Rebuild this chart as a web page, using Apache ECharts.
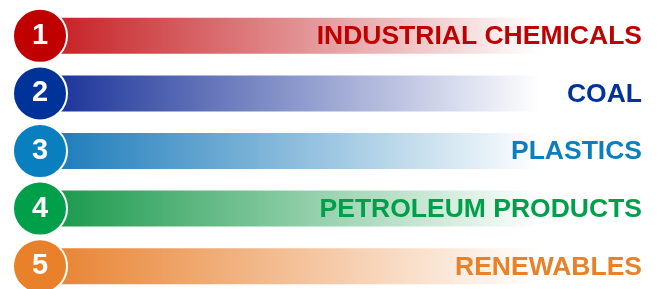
<!DOCTYPE html>
<html>
<head>
<meta charset="utf-8">
<script src="https://cdn.jsdelivr.net/npm/echarts@6/dist/echarts.min.js"></script>
<style>
  html, body { margin: 0; padding: 0; background: #fff; }
  #chart { width: 657px; height: 289px; }
</style>
</head>
<body>
<div id="chart"></div>
<script>
// 数据
const labels = ['INDUSTRIAL CHEMICALS', 'COAL', 'PLASTICS', 'PETROLEUM PRODUCTS', 'RENEWABLES'];
const numbers = ['1', '2', '3', '4', '5'];
const barValues = [100, 100, 100, 100, 100];
const colors = ['#C00000', '#003399', '#0A7FC0', '#00A04A', '#E8812A'];
const barStart = ['rgba(196,26,30,1)', 'rgba(20,45,150,1)', 'rgba(22,120,185,1)', 'rgba(18,150,70,1)', 'rgba(232,128,45,1)'];
const barEnd = ['rgba(196,26,30,0)', 'rgba(20,45,150,0)', 'rgba(22,120,185,0)', 'rgba(18,150,70,0)', 'rgba(232,128,45,0)'];

const chart = echarts.init(document.getElementById('chart'));

const barData = barValues.map((v, i) => ({
    value: v,
    itemStyle: {
        color: {
            type: 'linear', x: 0, y: 0, x2: 1, y2: 0,
            colorStops: [
                { offset: 0, color: barStart[i] },
                { offset: 0.83, color: barEnd[i] },
                { offset: 1, color: barEnd[i] }
            ]
        }
    },
    label: { color: colors[i] }
}));

const circleData = numbers.map((n, i) => ({
    value: [0, i],
    name: n,
    itemStyle: { color: colors[i] }
}));

const option = {
    animation: false,
    grid: { left: 40, right: 15, top: 7, height: 288, outerBoundsMode: 'none' },
    xAxis: { type: 'value', min: 0, max: 100, show: false },
    yAxis: {
        type: 'category',
        data: labels,
        inverse: true,
        show: false
    },
    series: [
        {
            type: 'bar',
            data: barData,
            barWidth: 36,
            label: {
                show: true,
                position: 'insideRight',
                distance: 0,
                offset: [0, 1],
                formatter: (p) => labels[p.dataIndex],
                fontFamily: 'Liberation Sans, Arial, sans-serif',
                fontWeight: 'bold',
                fontSize: 26.5
            },
            z: 1
        },
        {
            type: 'scatter',
            data: circleData,
            symbol: 'circle',
            symbolSize: 54,
            itemStyle: { borderColor: '#fff', borderWidth: 2, opacity: 1 },
            label: {
                show: true,
                position: 'inside',
                formatter: '{b}',
                color: '#fff',
                fontFamily: 'Liberation Sans, Arial, sans-serif',
                fontWeight: 'bold',
                fontSize: 29
            },
            emphasis: { disabled: true },
            z: 3
        }
    ]
};

chart.setOption(option);
</script>
</body>
</html>
